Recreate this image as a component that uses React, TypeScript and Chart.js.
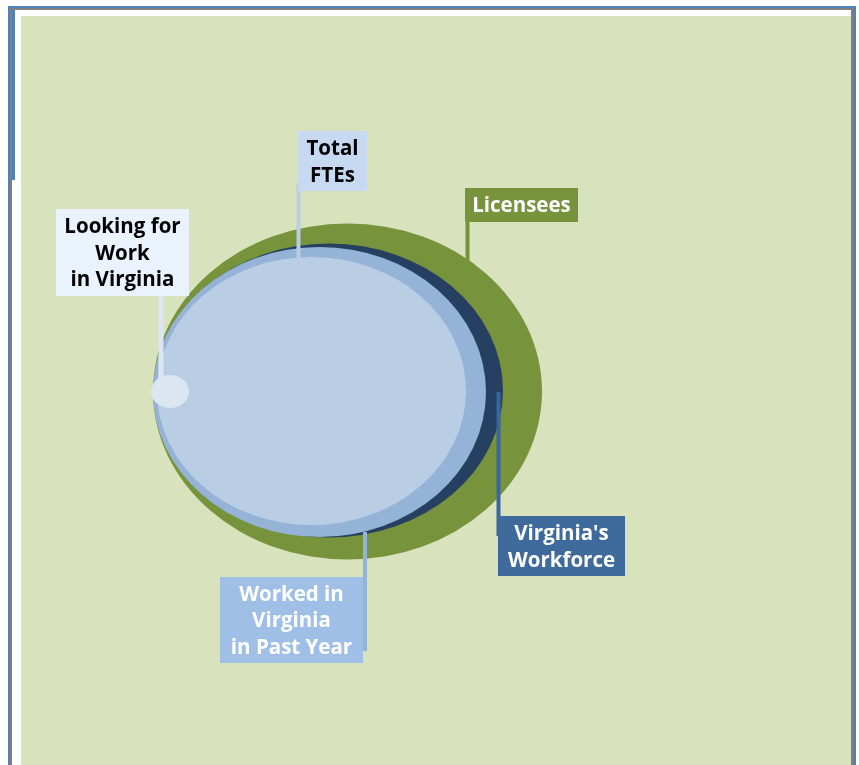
import React, { useEffect, useRef } from "react";
import { Chart, registerables } from "chart.js";

Chart.register(...registerables);

// ---- data (units: diagram units, origin at top-left of the panel) ----
const categories = [
  "Licensees",
  "Virginia's Workforce",
  "Worked in Virginia in Past Year",
  "Total FTEs",
  "Looking for Work in Virginia",
];
const centerX = [326.5, 308, 298.5, 290.5, 149];
const centerY = [375.5, 374.5, 376, 375, 375.5];
const radiusX = [194.5, 174, 166.5, 154.5, 19];
const radiusY = [168, 147, 145, 134, 16.5];
const fillColors = ["#77933c", "#254061", "#95b3d7", "#b9cde5", "#dce6f2"];
const labelLines = [
  ["Licensees"],
  ["Virginia's", "Workforce"],
  ["Worked in", "Virginia", "in Past Year"],
  ["Total", "FTEs"],
  ["Looking for", "Work", "in Virginia"],
];

// ---- callout layout (box: x0,y0,x1,y1; leader: x, y0, y1) ----
const calloutBoxes = [
  [444, 172, 557, 206],
  [477, 500, 604, 560],
  [199, 561, 342, 647],
  [277, 115, 346, 175],
  [35, 193, 168, 280],
];
const calloutLeaders = [
  [446.5, 181, 246],
  [477.5, 376, 520],
  [344, 516, 635],
  [277.5, 167, 242],
  [140, 274, 369],
];
const boxFills = ["#77933c", "#3f6a9c", "#a0bfe6", "#c6d9f1", "#eaf3fd"];
const leaderColors = ["#77933c", "#3a66a0", "#95b3d7", "#b9cde5", "#dce6f2"];
const textColors = ["#ffffff", "#ffffff", "#ffffff", "#000000", "#000000"];

const framePlugin = {
  id: "frame",
  beforeDraw(chart: any) {
    const { ctx, width, height, chartArea } = chart;
    ctx.save();
    ctx.fillStyle = "#ffffff";
    ctx.fillRect(0, 0, width, height);
    // blue outer line
    ctx.fillStyle = "#4f81bd";
    ctx.fillRect(8, 6, 848, 2);
    ctx.fillRect(8, 6, 2, height - 6);
    ctx.fillRect(853, 6, 3, height - 6);
    ctx.fillRect(12, 10, 3, 170);
    // gray inner line
    ctx.fillStyle = "#808080";
    ctx.fillRect(10, 8, 843, 2);
    ctx.fillRect(10, 8, 2, height - 8);
    ctx.fillRect(851, 8, 2, height - 8);
    // panel
    ctx.fillStyle = "#d8e3bd";
    ctx.fillRect(chartArea.left, chartArea.top, chartArea.right - chartArea.left, chartArea.bottom - chartArea.top);
    ctx.restore();
  },
};

const ellipsePlugin = {
  id: "ellipses",
  afterDatasetsDraw(chart: any) {
    const { ctx } = chart;
    const xs = chart.scales.x;
    const ys = chart.scales.y;
    ctx.save();
    for (let i = 0; i < categories.length; i++) {
      const cx = xs.getPixelForValue(centerX[i]);
      const cy = ys.getPixelForValue(centerY[i]);
      const rx = Math.abs(xs.getPixelForValue(centerX[i] + radiusX[i]) - cx);
      const ry = Math.abs(ys.getPixelForValue(centerY[i] + radiusY[i]) - cy);
      ctx.beginPath();
      ctx.ellipse(cx, cy, rx, ry, 0, 0, Math.PI * 2);
      ctx.fillStyle = fillColors[i];
      ctx.fill();
      if (i === 3) {
        // leaders drawn over the big ellipses but under the small one
        drawLeaders(chart);
      }
    }
    drawBoxes(chart);
    ctx.restore();
  },
};

function drawLeaders(chart: any) {
  const { ctx } = chart;
  const xs = chart.scales.x;
  const ys = chart.scales.y;
  for (let i = 0; i < calloutLeaders.length; i++) {
    const [lx, ly0, ly1] = calloutLeaders[i];
    const px = xs.getPixelForValue(lx);
    const py0 = ys.getPixelForValue(ly0);
    const py1 = ys.getPixelForValue(ly1);
    ctx.strokeStyle = leaderColors[i];
    ctx.lineWidth = i === 4 ? 5 : 4;
    ctx.beginPath();
    ctx.moveTo(px, py0);
    ctx.lineTo(px, py1);
    ctx.stroke();
  }
}

function drawBoxes(chart: any) {
  const { ctx } = chart;
  const xs = chart.scales.x;
  const ys = chart.scales.y;
  for (let i = 0; i < calloutBoxes.length; i++) {
    const [bx0, by0, bx1, by1] = calloutBoxes[i];
    const x0 = xs.getPixelForValue(bx0);
    const x1 = xs.getPixelForValue(bx1);
    const y0 = ys.getPixelForValue(by0);
    const y1 = ys.getPixelForValue(by1);
    ctx.fillStyle = boxFills[i];
    ctx.fillRect(x0, y0, x1 - x0, y1 - y0);
    const lines = labelLines[i];
    const lh = 26.5;
    const cx = (x0 + x1) / 2;
    const cy = (y0 + y1) / 2;
    ctx.fillStyle = textColors[i];
    ctx.font = "bold 20.5px 'Open Sans'";
    ctx.textAlign = "center";
    ctx.textBaseline = "middle";
    lines.forEach((t, k) => {
      ctx.fillText(t, cx, cy + (k - (lines.length - 1) / 2) * lh + 1.5);
    });
  }
}

export default function App() {
  const ref = useRef<HTMLCanvasElement | null>(null);
  useEffect(() => {
    if (!ref.current) return;
    const chart = new Chart(ref.current, {
      type: "scatter",
      data: {
        datasets: categories.map((c, i) => ({
          label: c,
          data: [{ x: centerX[i], y: centerY[i] }],
          pointRadius: 0,
          backgroundColor: fillColors[i],
        })),
      },
      options: {
        animation: false,
        responsive: true,
        maintainAspectRatio: false,
        layout: { padding: { left: 21, top: 16, right: 8, bottom: 0 } },
        scales: {
          x: { type: "linear", min: 0, max: 830, display: false },
          y: { type: "linear", min: 0, max: 749, reverse: true, display: false },
        },
        plugins: { legend: { display: false }, tooltip: { enabled: false } },
      },
      plugins: [framePlugin, ellipsePlugin],
    });
    return () => chart.destroy();
  }, []);
  return (
    <div style={{ position: "absolute", left: 0, top: 0, width: 859, height: 765 }}>
      <canvas ref={ref} />
    </div>
  );
}
